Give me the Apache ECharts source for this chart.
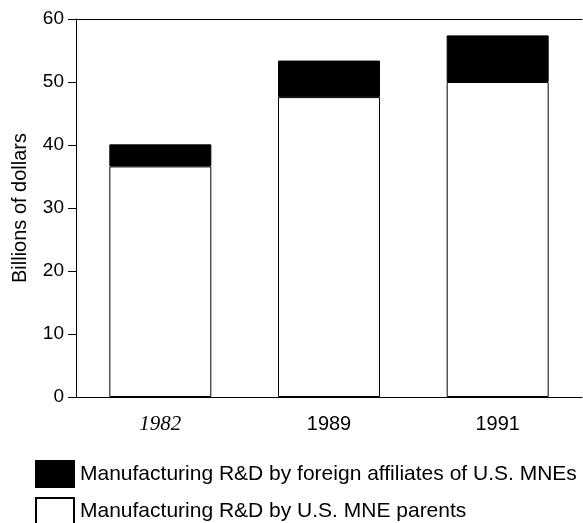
<!DOCTYPE html>
<html>
<head>
<meta charset="utf-8">
<script src="https://cdn.jsdelivr.net/npm/echarts@6/dist/echarts.min.js"></script>
<style>
  html, body { margin: 0; padding: 0; background: #fff; }
  #chart { width: 583px; height: 523px; }
</style>
</head>
<body>
<div id="chart"></div>
<script>
var years = ['1982', '1989', '1991'];
var parentsRD = [36.6, 47.6, 50.0];
var foreignRD = [3.5, 5.8, 7.4];
var yTicks = [0, 10, 20, 30, 40, 50, 60];

var nameForeign = 'Manufacturing R&D by foreign affiliates of U.S. MNEs';
var nameParents = 'Manufacturing R&D by U.S. MNE parents';

var myChart = echarts.init(document.getElementById('chart'));

// one legend per row, the reference stacks them vertically
function legendRow(name, top) {
    return {
        left: 35,
        top: top,
        padding: 0,
        icon: 'rect',
        itemWidth: 38,
        itemHeight: 26,
        itemGap: 0,
        data: [name],
        textStyle: { fontSize: 21, color: '#000', padding: [0, 0, 0, 1] }
    };
}

var option = {
    animation: false,
    backgroundColor: '#fff',
    textStyle: { fontFamily: 'Liberation Sans, Arial, sans-serif', color: '#000' },
    grid: { left: 76, right: 1, top: 19, bottom: 126 },
    legend: [legendRow(nameForeign, 460), legendRow(nameParents, 497)],
    xAxis: [
        {
            type: 'category',
            data: years,
            axisLine: { lineStyle: { color: '#000', width: 1 } },
            axisTick: { show: false },
            axisLabel: {
                margin: 17,
                fontSize: 20,
                color: '#000',
                formatter: function (v) {
                    return v === '1982' ? '{it|' + v + '}' : v;
                },
                rich: {
                    it: { fontFamily: 'Liberation Serif, Times New Roman, serif', fontStyle: 'italic', fontSize: 21, color: '#000' }
                }
            }
        },
        {
            type: 'category',
            position: 'top',
            data: years,
            axisLine: { show: true, lineStyle: { color: '#000', width: 1 } },
            axisTick: { show: false },
            axisLabel: { show: false }
        }
    ],
    yAxis: {
        type: 'value',
        min: 0,
        max: 60,
        interval: 10,
        name: 'Billions of dollars',
        nameLocation: 'middle',
        nameGap: 46,
        nameTextStyle: { fontSize: 20, color: '#000' },
        axisLine: { show: true, lineStyle: { color: '#000', width: 1 } },
        axisTick: { show: true, length: 8, lineStyle: { color: '#000' } },
        splitLine: { show: false },
        axisLabel: {
            fontSize: 19,
            color: '#000',
            margin: 12,
            formatter: function (v) { return yTicks.indexOf(v) >= 0 ? String(v) : ''; }
        }
    },
    series: [
        {
            name: nameParents,
            type: 'bar',
            stack: 'rd',
            barWidth: 102,
            data: parentsRD,
            itemStyle: { color: '#fff', borderColor: '#000', borderWidth: 1 }
        },
        {
            name: nameForeign,
            type: 'bar',
            stack: 'rd',
            barWidth: 102,
            data: foreignRD,
            itemStyle: { color: '#000', borderColor: '#000', borderWidth: 1 }
        }
    ]
};

myChart.setOption(option);
</script>
</body>
</html>
